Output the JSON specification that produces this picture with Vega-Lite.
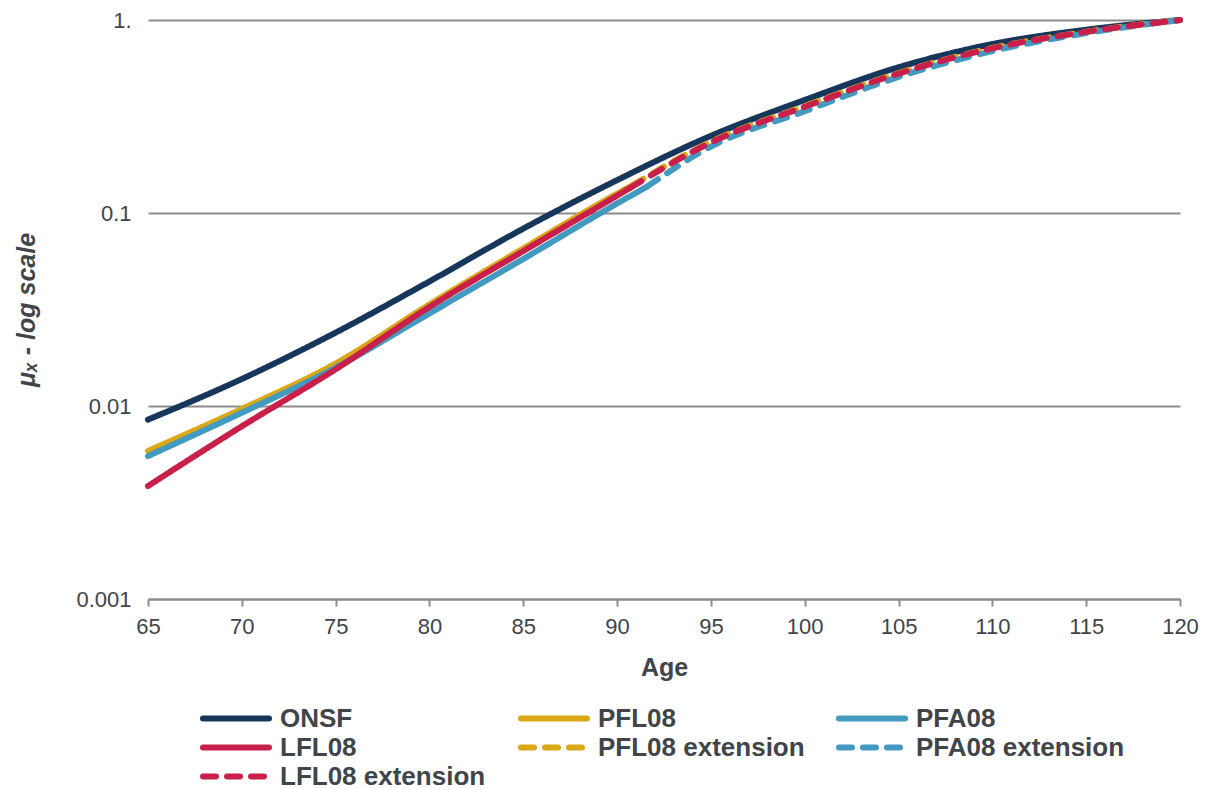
{
  "$schema": "https://vega.github.io/schema/vega-lite/v6.json",
  "width": 1032,
  "height": 579,
  "autosize": {"type": "none"},
  "padding": {"left": 148, "top": 20, "right": 37, "bottom": 190},
  "background": "white",
  "config": {
    "view": {"stroke": null},
    "font": "Liberation Sans"
  },
  "data": {
    "values": [
      {"age": 65, "mu": 0.0085, "series": "ONSF"},
      {"age": 70, "mu": 0.0138, "series": "ONSF"},
      {"age": 75, "mu": 0.0240, "series": "ONSF"},
      {"age": 80, "mu": 0.0442, "series": "ONSF"},
      {"age": 85, "mu": 0.083, "series": "ONSF"},
      {"age": 90, "mu": 0.148, "series": "ONSF"},
      {"age": 95, "mu": 0.251, "series": "ONSF"},
      {"age": 100, "mu": 0.385, "series": "ONSF"},
      {"age": 105, "mu": 0.569, "series": "ONSF"},
      {"age": 110, "mu": 0.75, "series": "ONSF"},
      {"age": 115, "mu": 0.89, "series": "ONSF"},
      {"age": 120, "mu": 1.0, "series": "ONSF"},
      {"age": 65, "mu": 0.00585, "series": "PFL08"},
      {"age": 70, "mu": 0.00966, "series": "PFL08"},
      {"age": 75, "mu": 0.0166, "series": "PFL08"},
      {"age": 80, "mu": 0.0336, "series": "PFL08"},
      {"age": 85, "mu": 0.0655, "series": "PFL08"},
      {"age": 90, "mu": 0.126, "series": "PFL08"},
      {"age": 90.8, "mu": 0.139, "series": "PFL08"},
      {"age": 65, "mu": 0.0055, "series": "PFA08"},
      {"age": 70, "mu": 0.00923, "series": "PFA08"},
      {"age": 75, "mu": 0.0158, "series": "PFA08"},
      {"age": 80, "mu": 0.0302, "series": "PFA08"},
      {"age": 85, "mu": 0.0578, "series": "PFA08"},
      {"age": 90, "mu": 0.112, "series": "PFA08"},
      {"age": 91.6, "mu": 0.137, "series": "PFA08"},
      {"age": 65, "mu": 0.00385, "series": "LFL08"},
      {"age": 70, "mu": 0.00785, "series": "LFL08"},
      {"age": 75, "mu": 0.0155, "series": "LFL08"},
      {"age": 80, "mu": 0.0326, "series": "LFL08"},
      {"age": 85, "mu": 0.0635, "series": "LFL08"},
      {"age": 90, "mu": 0.123, "series": "LFL08"},
      {"age": 90.7, "mu": 0.135, "series": "LFL08"},
      {"age": 90.8, "mu": 0.139, "series": "PFL08 extension"},
      {"age": 95, "mu": 0.234, "series": "PFL08 extension"},
      {"age": 100, "mu": 0.358, "series": "PFL08 extension"},
      {"age": 105, "mu": 0.531, "series": "PFL08 extension"},
      {"age": 110, "mu": 0.716, "series": "PFL08 extension"},
      {"age": 115, "mu": 0.87, "series": "PFL08 extension"},
      {"age": 120, "mu": 1.0, "series": "PFL08 extension"},
      {"age": 91.6, "mu": 0.137, "series": "PFA08 extension"},
      {"age": 95, "mu": 0.221, "series": "PFA08 extension"},
      {"age": 100, "mu": 0.337, "series": "PFA08 extension"},
      {"age": 105, "mu": 0.507, "series": "PFA08 extension"},
      {"age": 110, "mu": 0.69, "series": "PFA08 extension"},
      {"age": 115, "mu": 0.855, "series": "PFA08 extension"},
      {"age": 120, "mu": 1.0, "series": "PFA08 extension"},
      {"age": 90.7, "mu": 0.135, "series": "LFL08 extension"},
      {"age": 95, "mu": 0.232, "series": "LFL08 extension"},
      {"age": 100, "mu": 0.355, "series": "LFL08 extension"},
      {"age": 105, "mu": 0.528, "series": "LFL08 extension"},
      {"age": 110, "mu": 0.713, "series": "LFL08 extension"},
      {"age": 115, "mu": 0.868, "series": "LFL08 extension"},
      {"age": 120, "mu": 1.0, "series": "LFL08 extension"}
    ]
  },
  "mark": {"type": "line", "strokeWidth": 6, "strokeCap": "round", "interpolate": "monotone"},
  "encoding": {
    "x": {
      "field": "age", "type": "quantitative",
      "scale": {"domain": [65, 120], "nice": false, "zero": false},
      "axis": {
        "title": "Age", "values": [65,70,75,80,85,90,95,100,105,110,115,120],
        "grid": false, "domainColor": "#8c8c8c", "domainWidth": 2,
        "tickColor": "#8c8c8c", "tickWidth": 2, "tickSize": 7, "labelFlush": false,
        "labelFontSize": 22, "labelColor": "#404549", "labelPadding": 10, "labelFont": "Liberation Sans",
        "titleFontSize": 25, "titleFontWeight": "bold", "titleColor": "#404549", "titlePadding": 18, "titleFont": "Liberation Sans"
      }
    },
    "y": {
      "field": "mu", "type": "quantitative",
      "scale": {"type": "log", "domain": [0.001, 1], "nice": false},
      "axis": {
        "title": "μₓ - log scale", "values": [0.001, 0.01, 0.1, 1],
        "labelExpr": "datum.value == 1 ? '1.' : datum.value == 0.1 ? '0.1' : datum.value == 0.01 ? '0.01' : '0.001'",
        "grid": true, "gridColor": "#8c8c8c", "gridWidth": 2,
        "domain": false, "ticks": false,
        "labelFontSize": 22, "labelColor": "#404549", "labelPadding": 17, "labelFont": "Liberation Sans",
        "titleFontSize": 25, "titleFontWeight": "bold", "titleFontStyle": "italic", "titleColor": "#404549", "titlePadding": 36, "titleFont": "Liberation Sans"
      }
    },
    "color": {
      "field": "series", "type": "nominal",
      "scale": {
        "domain": ["ONSF", "PFL08", "PFA08", "LFL08", "PFL08 extension", "PFA08 extension", "LFL08 extension"],
        "range": ["#16365c", "#daa817", "#439ac0", "#c8204a", "#daa817", "#439ac0", "#c8204a"]
      },
      "legend": {
        "title": null, "orient": "none", "direction": "horizontal", "legendX": 52, "legendY": 684,
        "columns": 3, "gridAlign": "all", "symbolType": "stroke", "symbolSize": 4356, "symbolStrokeWidth": 6,
        "clipHeight": 29, "labelFontSize": 26, "labelFontWeight": "bold", "labelColor": "#404549",
        "labelFont": "Liberation Sans", "labelOffset": 8, "columnPadding": 29, "rowPadding": 0, "labelLimit": 400,
        "encode": {"symbols": {"update": {"strokeCap": {"value": "round"}}}}
      }
    },
    "strokeDash": {
      "field": "series", "type": "nominal",
      "scale": {
        "domain": ["ONSF", "PFL08", "PFA08", "LFL08", "PFL08 extension", "PFA08 extension", "LFL08 extension"],
        "range": [[1, 0], [1, 0], [1, 0], [1, 0], [13, 11], [13, 11], [13, 11]]
      },
      "legend": null
    }
  }
}
